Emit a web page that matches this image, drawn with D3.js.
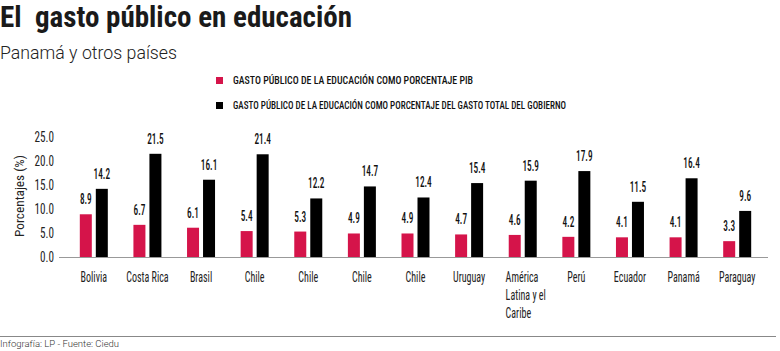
<!DOCTYPE html>
<html>
<head>
<meta charset="utf-8">
<script src="https://cdn.jsdelivr.net/npm/d3@7"></script>
<style>
  html, body { margin: 0; padding: 0; background: #fff; }
  svg { display: block; }
</style>
</head>
<body>
<svg id="chart" width="780" height="351"></svg>
<script>
const title = "El  gasto público en educación";
const subtitle = "Panamá y otros países";
const categories = ["Bolivia", "Costa Rica", "Brasil", "Chile", "Chile", "Chile", "Chile", "Uruguay", "América Latina y el Caribe", "Perú", "Ecuador", "Panamá", "Paraguay"];
const categoryLines = [["Bolivia"], ["Costa Rica"], ["Brasil"], ["Chile"], ["Chile"], ["Chile"], ["Chile"], ["Uruguay"], ["América", "Latina y el", "Caribe"], ["Perú"], ["Ecuador"], ["Panamá"], ["Paraguay"]];
const pibValues = [8.9, 6.7, 6.1, 5.4, 5.3, 4.9, 4.9, 4.7, 4.6, 4.2, 4.1, 4.1, 3.3];
const gastoValues = [14.2, 21.5, 16.1, 21.4, 12.2, 14.7, 12.4, 15.4, 15.9, 17.9, 11.5, 16.4, 9.6];
const seriesNames = ["GASTO PÚBLICO DE LA EDUCACIÓN COMO PORCENTAJE PIB", "GASTO PÚBLICO DE LA EDUCACIÓN COMO PORCENTAJE DEL GASTO TOTAL DEL GOBIERNO"];
const yTicks = [0, 5, 10, 15, 20, 25];
const yTitle = "Porcentajes (%)";
const footer = "Infografía: LP - Fuente: Ciedu";

const colors = ["#d5144a", "#000000"];
const condensed = "'Roboto Condensed', 'Liberation Sans Narrow', 'DejaVu Sans Condensed', Roboto, sans-serif";
const svg = d3.select("#chart");

function squeeze(sample, size, weight, target) {
  const t = svg.append("text").attr("font-family", condensed).attr("font-size", size)
    .attr("font-weight", weight).text(sample);
  const w = t.node().getComputedTextLength();
  t.remove();
  return target / w;
}
function ctext(parent, x, y, sx, rot) {
  return parent.append("text")
    .attr("transform", `translate(${x},${y})${rot ? ` rotate(${rot})` : ""} scale(${sx},1)`)
    .attr("font-family", condensed);
}

// Title & subtitle
svg.append("text").attr("x", 0).attr("y", 27)
  .attr("font-family", condensed).attr("font-weight", 700).attr("font-size", 30)
  .attr("fill", "#1a1a1a").attr("xml:space", "preserve")
  .attr("textLength", 352).attr("lengthAdjust", "spacingAndGlyphs")
  .text(title);
svg.append("text").attr("x", 0).attr("y", 59)
  .attr("font-family", "Roboto, 'Open Sans', sans-serif").attr("font-weight", 300).attr("font-size", 18)
  .attr("fill", "#222").attr("textLength", 177).attr("lengthAdjust", "spacingAndGlyphs")
  .text(subtitle);

// Legend
const legendY = [80, 105];
const legendW = [240, 333];
seriesNames.forEach((s, i) => {
  svg.append("rect").attr("x", 216).attr("y", legendY[i] - 3).attr("width", 7).attr("height", 7).attr("fill", colors[i]);
  svg.append("text").attr("x", 233).attr("y", legendY[i] + 4)
    .attr("font-family", condensed).attr("font-size", 11.5).attr("font-weight", 500).attr("fill", "#111")
    .attr("textLength", legendW[i]).attr("lengthAdjust", "spacingAndGlyphs")
    .text(s);
});

// Scales
const y = d3.scaleLinear().domain([0, 25]).range([257, 137]);
const x = d3.scaleBand().domain(d3.range(categories.length)).range([67, 764]);
const xs = d3.scaleBand().domain([0, 1]).range([0, 28]).paddingInner(0.25);
const off = x.bandwidth() / 2 - 14;

// Y axis ticks (labels only)
const sxTick = squeeze("10.0", 14.5, 400, 19.5);
const yAxis = d3.axisLeft(y).tickValues(yTicks).tickFormat(d3.format(".1f")).tickSize(0).tickPadding(0);
const ya = svg.append("g").attr("transform", "translate(54,0)").call(yAxis);
ya.select(".domain").remove();
ya.selectAll("text").attr("font-family", condensed).attr("font-size", 14.5).attr("fill", "#222")
  .attr("transform", `scale(${sxTick},1)`);

// Y title
const sxYT = squeeze(yTitle, 13.5, 400, 82);
ctext(svg, 24, 196, sxYT, -90)
  .attr("text-anchor", "middle").attr("font-size", 13.5).attr("fill", "#222")
  .text(yTitle);

// Bars
const sxVal = squeeze("21.5", 14, 500, 16.5);
const series = [pibValues, gastoValues];
series.forEach((vals, si) => {
  const g = svg.append("g");
  g.selectAll("rect").data(vals).join("rect")
    .attr("x", (d, i) => x(i) + off + xs(si))
    .attr("width", xs.bandwidth())
    .attr("y", d => y(d))
    .attr("height", d => y(0) - y(d))
    .attr("fill", colors[si]);
  vals.forEach((d, i) => {
    ctext(g, x(i) + off + xs(si) + xs.bandwidth() / 2, y(d) - 10, sxVal)
      .attr("text-anchor", "middle").attr("font-size", 14).attr("font-weight", 500).attr("fill", "#111")
      .text(d3.format(".1f")(d));
  });
});

// Baseline
svg.append("line").attr("x1", 59).attr("x2", 768).attr("y1", y(0) + 0.5).attr("y2", y(0) + 0.5)
  .attr("stroke", "#999").attr("stroke-width", 1);

// Category labels
const sxCat = squeeze("Bolivia", 14.5, 400, 26.5);
const xa = svg.append("g");
categoryLines.forEach((lines, i) => {
  const cx = x(i) + x.bandwidth() / 2;
  if (lines.length === 1) {
    ctext(xa, cx, 282, sxCat).attr("text-anchor", "middle").attr("font-size", 14.5).attr("fill", "#222").text(lines[0]);
  } else {
    const t = ctext(xa, cx, 282, sxCat).attr("font-size", 14.5).attr("fill", "#222");
    lines.forEach((l, li) => t.append("tspan").attr("x", 0).attr("y", li * 18).text(l));
    let maxW = 0;
    t.selectAll("tspan").each(function () { maxW = Math.max(maxW, this.getComputedTextLength()); });
    t.selectAll("tspan").attr("x", -maxW / 2 + 3 / sxCat);
  }
});

// Footer
svg.append("line").attr("x1", 0).attr("x2", 776).attr("y1", 336.5).attr("y2", 336.5)
  .attr("stroke", "#888").attr("stroke-width", 1.2);
svg.append("text").attr("x", 0).attr("y", 347)
  .attr("font-family", "Roboto, sans-serif").attr("font-weight", 300).attr("font-size", 9.5).attr("fill", "#333")
  .text(footer);
</script>
</body>
</html>
